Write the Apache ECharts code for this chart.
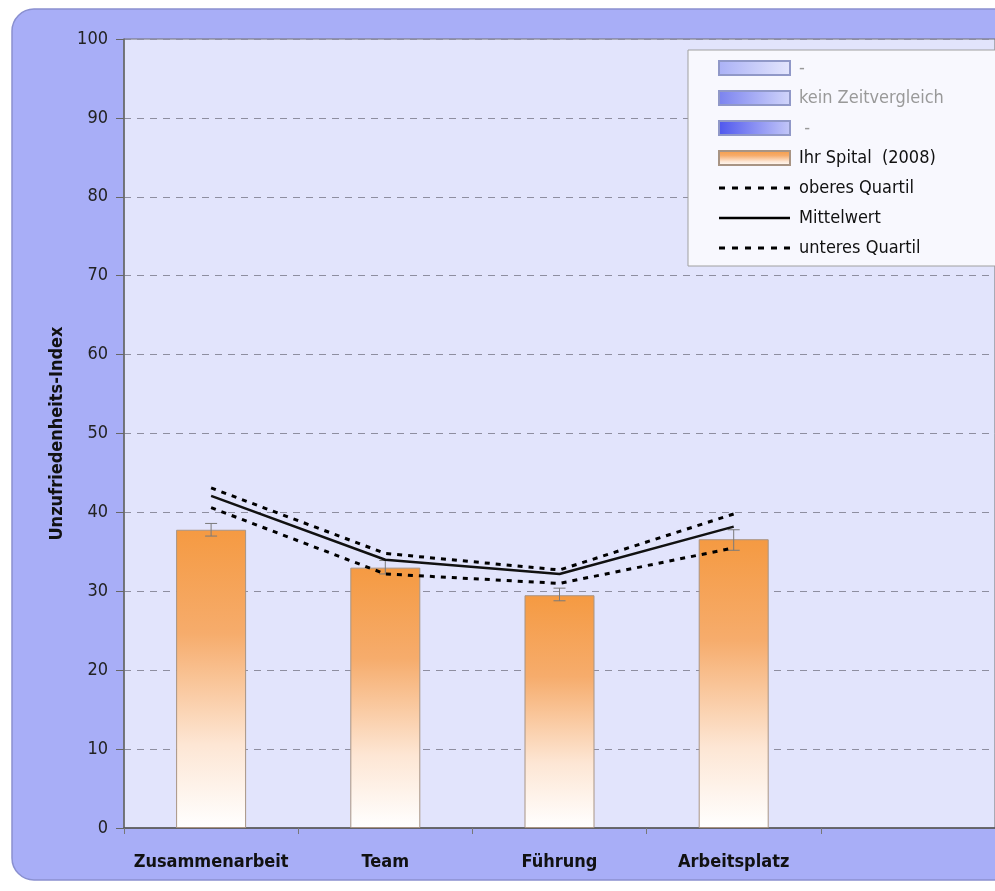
<!DOCTYPE html>
<html><head><meta charset="utf-8">
<script src="https://cdn.jsdelivr.net/npm/echarts@6/dist/echarts.min.js"></script>
<style>html,body{margin:0;padding:0;background:#fff}#c{width:995px;height:891px}</style>
</head><body><div id="c"></div>
<script>
const categories = ['Zusammenarbeit', 'Team', 'Führung', 'Arbeitsplatz', ''];
const spital = [37.8, 33.0, 29.5, 36.6];
const errLow = [37.0, 32.2, 28.8, 35.2];
const errHigh = [38.6, 33.9, 30.4, 37.8];
const oberesQuartil = [43.1, 34.8, 32.7, 39.8];
const mittelwert = [42.1, 34.0, 32.2, 38.2];
const unteresQuartil = [40.6, 32.2, 31.0, 35.5];
const yTicks = [0, 10, 20, 30, 40, 50, 60, 70, 80, 90, 100];

const FONT = '"Liberation Sans Narrow", "DejaVu Sans Condensed", Arial, sans-serif';
const chart = echarts.init(document.getElementById('c'));
const grad = (a, b) => new echarts.graphic.LinearGradient(0, 0, 1, 0, [{offset: 0, color: a}, {offset: 1, color: b}]);
const orange = new echarts.graphic.LinearGradient(0, 0, 0, 1, [
  {offset: 0, color: '#f59a42'}, {offset: 0.35, color: '#f6ac6c'},
  {offset: 0.72, color: '#fde6d4'}, {offset: 1, color: '#ffffff'}]);

const errData = spital.map((v, i) => [i, errLow[i], errHigh[i]]);
const dashIcon = 'path://M0,0h6v3h-6z M13,0h6v3h-6z M26,0h6v3h-6z M39,0h6v3h-6z M52,0h6v3h-6z M65,0h6v3h-6z';
const solidIcon = 'path://M0,0h71v2.5h-71z';

chart.setOption({
  animation: false,
  backgroundColor: '#ffffff',
  graphic: [{
    type: 'rect', z: -10, silent: true,
    shape: {x: 12, y: 9, width: 1010, height: 871, r: 22},
    style: {fill: '#a8aef7', stroke: '#8a90d0', lineWidth: 1.5}
  }],
  grid: {left: 124, top: 39, right: 0, bottom: 63, show: true,
    backgroundColor: '#e2e4fc', borderColor: '#707070', borderWidth: 1},
  legend: {
    orient: 'vertical', left: 688, top: 50,
    backgroundColor: '#f8f8fe', borderColor: '#a0a0a0', borderWidth: 1,
    padding: [9, 60, 9, 30], itemWidth: 71, itemHeight: 14, itemGap: 12,
    icon: 'rect',
    textStyle: {fontFamily: FONT, fontSize: 18, color: '#111', padding: [0, 0, 0, 4]},
    data: [
      {name: '-', textStyle: {color: '#999'}},
      {name: 'kein Zeitvergleich', textStyle: {color: '#999'}},
      {name: ' -', textStyle: {color: '#999'}},
      {name: 'Ihr Spital  (2008)'},
      {name: 'oberes Quartil', icon: dashIcon},
      {name: 'Mittelwert', icon: solidIcon},
      {name: 'unteres Quartil', icon: dashIcon}
    ]
  },
  xAxis: {
    type: 'category', data: categories, boundaryGap: true,
    axisLine: {lineStyle: {color: '#555', width: 1.5}},
    axisTick: {show: true, length: 6, lineStyle: {color: '#777'}},
    axisLabel: {interval: 0, fontFamily: FONT, fontSize: 18, fontWeight: 'bold', color: '#111', margin: 25}
  },
  yAxis: {
    type: 'value', min: 0, max: 100, interval: 10,
    name: 'Unzufriedenheits-Index', nameLocation: 'middle', nameGap: 56,
    nameTextStyle: {fontFamily: FONT, fontSize: 18, fontWeight: 'bold', color: '#111'},
    axisLine: {show: true, lineStyle: {color: '#666', width: 1.5}},
    axisTick: {show: true, length: 8, lineStyle: {color: '#666'}},
    axisLabel: {fontFamily: FONT, fontSize: 18, color: '#222', margin: 16,
      formatter: v => yTicks.includes(v) ? String(v) : ''},
    splitLine: {show: true, lineStyle: {color: '#8e8ea0', type: [7, 6], width: 1}}
  },
  series: [
    {name: '-', type: 'bar', stack: 'a', barWidth: 70, data: [],
     itemStyle: {color: grad('#aab1f6', '#e4e6fd'), borderColor: '#9098c8', borderWidth: 1}},
    {name: 'kein Zeitvergleich', type: 'bar', stack: 'a', barWidth: 70, data: [],
     itemStyle: {color: grad('#7a82ef', '#d2d6fb'), borderColor: '#9098c8', borderWidth: 1}},
    {name: ' -', type: 'bar', stack: 'a', barWidth: 70, data: [],
     itemStyle: {color: grad('#4e56ee', '#c4c8f8'), borderColor: '#9098c8', borderWidth: 1}},
    {name: 'Ihr Spital  (2008)', type: 'bar', stack: 'a', barWidth: 70, data: spital,
     itemStyle: {color: orange, borderColor: '#a89484', borderWidth: 1}, z: 2},
    {name: 'err', type: 'custom', z: 3, data: errData,
     renderItem: (params, api) => {
       const x = api.value(0);
       const lo = api.coord([x, api.value(1)]);
       const hi = api.coord([x, api.value(2)]);
       const w = 6;
       const st = {stroke: '#7a7a7a', lineWidth: 1};
       return {type: 'group', children: [
         {type: 'line', shape: {x1: lo[0], y1: lo[1], x2: hi[0], y2: hi[1]}, style: st},
         {type: 'line', shape: {x1: lo[0] - w, y1: lo[1], x2: lo[0] + w, y2: lo[1]}, style: st},
         {type: 'line', shape: {x1: hi[0] - w, y1: hi[1], x2: hi[0] + w, y2: hi[1]}, style: st}
       ]};
     }},
    {name: 'oberes Quartil', type: 'line', data: oberesQuartil, symbol: 'none', z: 4,
     lineStyle: {color: '#000', width: 3, type: [5, 6]}, itemStyle: {color: '#000'}},
    {name: 'Mittelwert', type: 'line', data: mittelwert, symbol: 'none', z: 4,
     lineStyle: {color: '#111', width: 2.5}, itemStyle: {color: '#000'}},
    {name: 'unteres Quartil', type: 'line', data: unteresQuartil, symbol: 'none', z: 4,
     lineStyle: {color: '#000', width: 3, type: [5, 6]}, itemStyle: {color: '#000'}}
  ]
});
</script></body></html>
